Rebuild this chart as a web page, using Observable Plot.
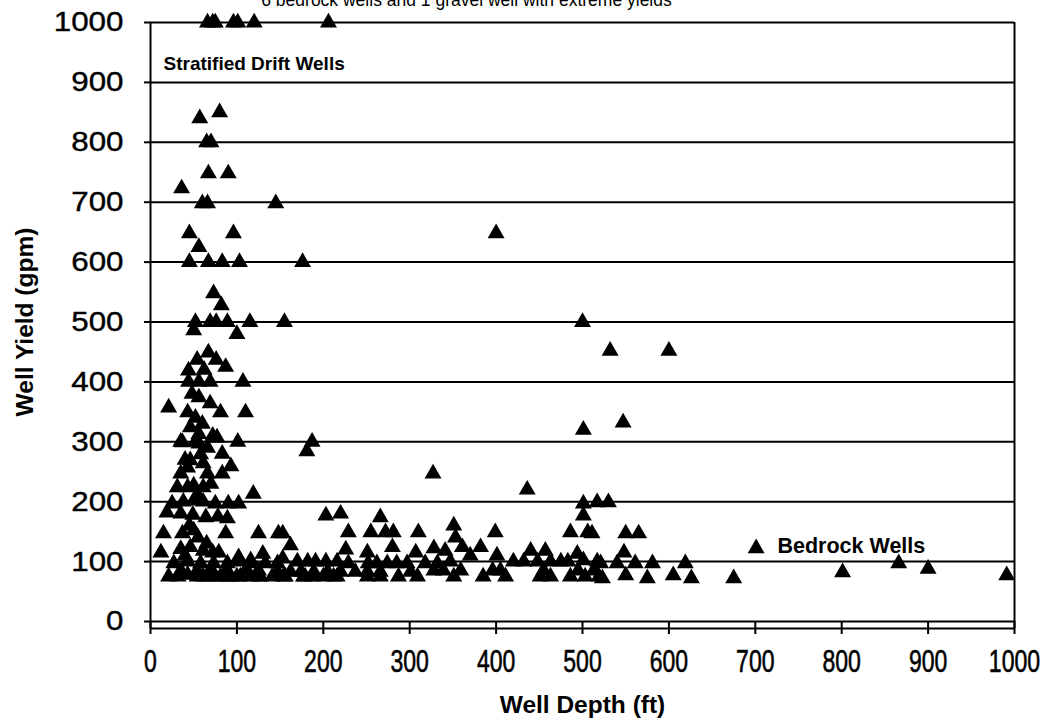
<!DOCTYPE html>
<html>
<head>
<meta charset="utf-8">
<script src="https://cdn.jsdelivr.net/npm/d3@7"></script>
<script src="https://cdn.jsdelivr.net/npm/@observablehq/plot@0.6"></script>
<style>
  html, body { margin: 0; padding: 0; background: #fff; }
  svg { display: block; }
</style>
</head>
<body>
<div id="chart"></div>
<script>
// Well depth (ft) and well yield (gpm) (parallel arrays)
const depthFt = [
  66, 72, 75, 96, 101, 120, 206,
  80, 57, 65, 70, 67, 90, 36, 60, 66, 145,
  45, 96, 56, 45, 67, 83, 103, 176, 400,
  73, 82,
  52, 69, 76, 89, 115, 155, 500,
  50, 100, 532, 600,
  67, 54, 76, 87, 44, 62,
  44, 56, 69, 107, 48,
  56, 21, 69, 43, 81, 110, 52, 46, 56, 72, 60,
  501, 547,
  35, 52, 77, 101, 187, 181, 37, 56, 66,
  58, 46, 83, 61, 43, 93, 35, 66, 83, 40, 327, 436,
  31, 50, 61, 119, 43, 70, 55,
  25, 38, 50, 61, 75, 90, 102, 501, 517, 530,
  19, 35, 49, 64, 78, 89, 203, 220, 266, 501, 45,
  15, 37, 50, 87, 125, 148, 153, 229, 255, 272, 281, 310, 351, 353, 399, 486, 506, 511, 550, 565, 65, 55,
  12, 35, 46, 61, 72, 79, 102, 116, 130, 162, 153, 226, 251, 280, 307, 328, 341, 361, 382, 370, 401, 440, 457, 494, 501, 548, 701, 40,
  27, 43, 58, 73, 89, 101, 116, 133, 147, 170, 182, 191, 203, 216, 229, 252, 262, 274, 285, 297, 318, 332, 347, 420, 432, 448, 463, 475, 483, 517, 521, 540, 561, 581, 619, 866,
  35, 54, 69, 88, 110, 125, 147, 162, 174, 189, 205, 220, 237, 251, 266, 301, 328, 339, 359, 396, 405, 455, 495, 513, 801, 900,
  21, 32, 43, 54, 61, 66, 75, 81, 87, 93, 100, 104, 116, 125, 127, 141, 154, 156, 177, 179, 188, 200, 212, 216, 251, 266, 287, 309, 351, 385, 411, 451, 463, 486, 503, 519, 523, 550, 575, 605, 626, 675, 991
];
const yieldGpm = [
  1000, 1000, 1000, 1000, 1000, 1000, 1000,
  850, 840, 800, 800, 748, 748, 723, 698, 698, 698,
  648, 648, 625, 600, 600, 600, 600, 600, 648,
  548, 528,
  500, 500, 500, 500, 500, 500, 500,
  486, 480, 452, 452,
  449, 437, 437, 425, 419, 420,
  400, 400, 400, 400, 380,
  374, 357, 364, 349, 349, 349, 340, 324, 313, 310, 330,
  320, 332,
  300, 300, 307, 300, 300, 284, 299, 297, 290,
  279, 269, 280, 264, 257, 259, 247, 247, 247, 270, 247, 220,
  224, 227, 224, 213, 224, 230, 210,
  197, 200, 202, 200, 197, 197, 197, 197, 199, 199,
  182, 180, 178, 174, 175, 172, 177, 180, 174, 177, 160,
  147, 147, 152, 147, 147, 147, 147, 149, 149, 149, 149, 149, 160, 140, 149, 149, 149, 147, 147, 147, 130, 140,
  115, 121, 124, 118, 115, 115, 107, 102, 113, 127, 105, 120, 115, 124, 115, 122, 118, 124, 124, 110, 110, 118, 118, 113, 102, 115, 122, 110,
  97, 100, 97, 97, 97, 100, 97, 97, 97, 100, 100, 100, 100, 100, 97, 97, 97, 97, 97, 97, 97, 97, 100, 100, 100, 100, 100, 100, 100, 100, 97, 97, 97, 97, 97, 97,
  85, 85, 85, 85, 85, 85, 83, 83, 83, 83, 83, 83, 83, 83, 83, 83, 85, 85, 85, 85, 85, 85, 85, 85, 82, 88,
  75, 75, 78, 75, 75, 75, 75, 75, 75, 75, 75, 75, 75, 75, 75, 75, 75, 75, 75, 75, 75, 75, 75, 75, 75, 75, 75, 75, 75, 75, 75, 75, 75, 75, 75, 75, 72, 77, 72, 77, 72, 72, 77
];
const xTicks = [0, 100, 200, 300, 400, 500, 600, 700, 800, 900, 1000];
const yTicks = [0, 100, 200, 300, 400, 500, 600, 700, 800, 900, 1000];
const xTitle = "Well Depth (ft)";
const yTitle = "Well Yield (gpm)";
const topNote = "6 bedrock wells and 1 gravel well with extreme yields";
const driftLabel = "Stratified Drift Wells";
const bedrockLabel = "Bedrock Wells";

const wells = depthFt.map((d, i) => ({depth: d, yield: yieldGpm[i]}));

const sans = "'Liberation Sans', Arial, Helvetica, sans-serif";

const chart = Plot.plot({
  width: 1053,
  height: 728,
  marginLeft: 150,
  marginRight: 39,
  marginTop: 22,
  marginBottom: 107,
  x: {domain: [0, 1000], axis: null},
  y: {domain: [0, 1000], axis: null},
  style: {fontFamily: sans, background: "#fff", color: "#000"},
  marks: [
    Plot.ruleY(yTicks, {stroke: "#000", strokeWidth: 2}),
    Plot.ruleY([0], {stroke: "#000", strokeWidth: 2, dy: 7}),
    Plot.ruleX([0], {stroke: "#000", strokeWidth: 2, insetBottom: -7}),
    Plot.ruleX([1000], {stroke: "#000", strokeWidth: 2, insetBottom: -7}),
    Plot.axisY({ticks: yTicks, tickSize: 6, tickPadding: 21, tickFormat: d => String(d),
      fontSize: 28, label: null, strokeWidth: 2, stroke: "#000", fill: "#000"}),
    Plot.axisX({ticks: xTicks, tickSize: 13, tickPadding: 15, tickFormat: d => String(d),
      fontSize: 32, label: null, strokeWidth: 2, stroke: "#000", fill: "#000"}),
    Plot.dot(wells, {x: "depth", y: "yield", symbol: "triangle", r: 6.3, fill: "#000"}),
    Plot.text([yTitle], {frameAnchor: "left", dx: -125, rotate: -90, textAnchor: "middle", lineAnchor: "middle",
      fontSize: 24.5, fontWeight: "bold", fill: "#000"}),
    Plot.text([xTitle], {frameAnchor: "bottom", dy: 84, lineAnchor: "middle", fontSize: 24.5, fontWeight: "bold", fill: "#000"}),
    Plot.text([topNote], {frameAnchor: "top", dx: -116, dy: -22, lineAnchor: "middle", fontSize: 17.5, fill: "#000"}),
    Plot.text([driftLabel], {frameAnchor: "top-left", dx: 13, dy: 41, textAnchor: "start", lineAnchor: "middle",
      fontSize: 19, fontWeight: "bold", fill: "#000"}),
    Plot.text([bedrockLabel], {frameAnchor: "bottom-left", dx: 627, dy: -75, textAnchor: "start", lineAnchor: "middle",
      fontSize: 21.5, fontWeight: "bold", fill: "#000"})
  ]
});
document.getElementById("chart").appendChild(chart);

// Condense the x tick labels horizontally (the source uses a narrow, heavy face)
chart.querySelectorAll('g[aria-label="x-axis tick label"] text').forEach(t => {
  const w = t.getComputedTextLength();
  t.setAttribute("textLength", (w * 0.72).toFixed(1));
  t.setAttribute("lengthAdjust", "spacingAndGlyphs");
  t.setAttribute("stroke", "#000");
  t.setAttribute("stroke-width", "0.6");
});
// Slightly widen y tick labels (source face is broad)
chart.querySelectorAll('g[aria-label="y-axis tick label"] text').forEach(t => {
  const w = t.getComputedTextLength();
  t.setAttribute("textLength", (w * 1.12).toFixed(1));
  t.setAttribute("lengthAdjust", "spacingAndGlyphs");
  t.setAttribute("stroke", "#000");
  t.setAttribute("stroke-width", "0.4");
});
</script>
</body>
</html>
